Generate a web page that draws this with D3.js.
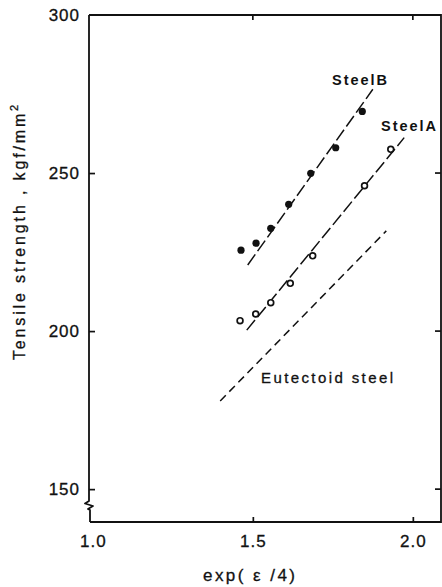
<!DOCTYPE html>
<html>
<head>
<meta charset="utf-8">
<script src="https://cdn.jsdelivr.net/npm/d3@7"></script>
<style>
  html, body { margin: 0; padding: 0; background: #fff; }
  svg { display: block; }
  text { font-family: "Liberation Sans", Arial, Helvetica, sans-serif; fill: #111; stroke: #111; stroke-width: 0.3px; }
</style>
</head>
<body>
<svg id="chart" width="442" height="587"></svg>
<script>
// Tensile strength vs exp(eps/4) for two drawn steels and a eutectoid reference
const steelBX = [1.463, 1.510, 1.556, 1.612, 1.681, 1.759, 1.842];
const steelBY = [225.6, 227.8, 232.5, 240.1, 249.9, 258.0, 269.5];
const steelAX = [1.460, 1.509, 1.556, 1.617, 1.687, 1.849, 1.931];
const steelAY = [203.3, 205.4, 209.0, 215.1, 223.8, 246.0, 257.5];

// fitted straight lines, given by their end points
const fitBX = [1.484, 1.875];
const fitBY = [220.9, 276.5];
const fitAX = [1.481, 1.973];
const fitAY = [200.3, 261.2];
const eutectoidX = [1.398, 1.917];
const eutectoidY = [177.9, 231.7];

const xTicks = [1.0, 1.5, 2.0];
const yTicks = [150, 200, 250, 300];

const svg = d3.select("#chart");
const plotL = 89, plotT = 15, plotR = 441, plotB = 522;

const x = d3.scaleLinear().domain([0.988, 2.088]).range([plotL, plotR]);
const y = d3.scaleLinear().domain([139.6, 300]).range([plotB, plotT]);

const ink = "#111";

// frame: top, right and bottom edges
svg.append("path")
  .attr("d", `M${plotL},${plotT} L${plotR},${plotT} L${plotR},${plotB} L${plotL + 1},${plotB}`)
  .attr("fill", "none").attr("stroke", ink).attr("stroke-width", 1.8);

// left edge with a break mark near the bottom
svg.append("path")
  .attr("d", `M${plotL},${plotT} L${plotL},501 L85,503.5 L93,506 L88,509 L${plotL + 1},510 L${plotL + 1},${plotB}`)
  .attr("fill", "none").attr("stroke", ink).attr("stroke-width", 1.8)
  .attr("stroke-linejoin", "round");

// y axis (ticks point inward)
const yAxis = svg.append("g")
  .attr("transform", `translate(${plotL},0)`)
  .call(d3.axisLeft(y).tickValues(yTicks).tickSize(-6).tickPadding(9).tickFormat(d3.format("d")));
yAxis.select(".domain").remove();
yAxis.selectAll(".tick line").attr("stroke", ink).attr("stroke-width", 1.7)
  .filter(d => d === 300).remove();
yAxis.selectAll(".tick text")
  .attr("font-size", 17).attr("letter-spacing", 1).attr("fill", ink);

// right-side ticks
svg.append("g").selectAll("line")
  .data(yTicks.filter(d => d < 300))
  .join("line")
  .attr("x1", plotR - 6).attr("x2", plotR)
  .attr("y1", d => y(d)).attr("y2", d => y(d))
  .attr("stroke", ink).attr("stroke-width", 1.7);

// x axis (ticks point inward)
const xAxis = svg.append("g")
  .attr("transform", `translate(0,${plotB})`)
  .call(d3.axisBottom(x).tickValues(xTicks).tickSize(-5).tickPadding(13).tickFormat(d3.format(".1f")));
xAxis.select(".domain").remove();
xAxis.selectAll(".tick line").attr("stroke", ink).attr("stroke-width", 1.7)
  .filter(d => d === 1.0).remove();
xAxis.selectAll(".tick text")
  .attr("font-size", 17).attr("letter-spacing", 1).attr("fill", ink);

// top ticks
svg.append("g").selectAll("line")
  .data(xTicks.filter(d => d > 1.0))
  .join("line")
  .attr("x1", d => x(d)).attr("x2", d => x(d))
  .attr("y1", plotT).attr("y2", plotT + 5)
  .attr("stroke", ink).attr("stroke-width", 1.7);

// fitted lines
const seg = (xs, ys) => d3.line()(xs.map((v, i) => [x(v), y(ys[i])]));
svg.append("path").attr("d", seg(fitBX, fitBY))
  .attr("fill", "none").attr("stroke", ink).attr("stroke-width", 1.5).attr("stroke-dasharray", "13,4");
svg.append("path").attr("d", seg(fitAX, fitAY))
  .attr("fill", "none").attr("stroke", ink).attr("stroke-width", 1.5).attr("stroke-dasharray", "13,4");
svg.append("path").attr("d", seg(eutectoidX, eutectoidY))
  .attr("fill", "none").attr("stroke", ink).attr("stroke-width", 1.5).attr("stroke-dasharray", "8,5");

// Steel B: filled circles
svg.append("g").selectAll("circle")
  .data(steelBX.map((v, i) => [v, steelBY[i]]))
  .join("circle")
  .attr("cx", d => x(d[0])).attr("cy", d => y(d[1])).attr("r", 3.6)
  .attr("fill", ink);

// Steel A: open circles
svg.append("g").selectAll("circle")
  .data(steelAX.map((v, i) => [v, steelAY[i]]))
  .join("circle")
  .attr("cx", d => x(d[0])).attr("cy", d => y(d[1])).attr("r", 2.9)
  .attr("fill", "#fff").attr("stroke", ink).attr("stroke-width", 1.7);

// series labels
svg.append("text").attr("x", 332).attr("y", 85).attr("font-size", 14.5).attr("font-weight", "bold")
  .attr("textLength", 55).attr("lengthAdjust", "spacing").style("stroke-width", "0px").text("SteelB");
svg.append("text").attr("x", 381).attr("y", 131).attr("font-size", 14.5).attr("font-weight", "bold")
  .attr("textLength", 55).attr("lengthAdjust", "spacing").style("stroke-width", "0px").text("SteelA");
svg.append("text").attr("x", 261).attr("y", 383).attr("font-size", 15)
  .attr("textLength", 132).attr("lengthAdjust", "spacing").text("Eutectoid steel");

// axis titles
svg.append("text").attr("x", 203).attr("y", 581).attr("font-size", 17)
  .attr("textLength", 92).attr("lengthAdjust", "spacing").text("exp( ε /4)");

const yTitle = svg.append("text")
  .attr("transform", "translate(25,360) rotate(-90)")
  .attr("font-size", 16).attr("letter-spacing", 2.85);
yTitle.append("tspan").text("Tensile strength , kgf/mm");
yTitle.append("tspan").attr("font-size", 11).attr("dy", -7).text("2");
</script>
</body>
</html>
